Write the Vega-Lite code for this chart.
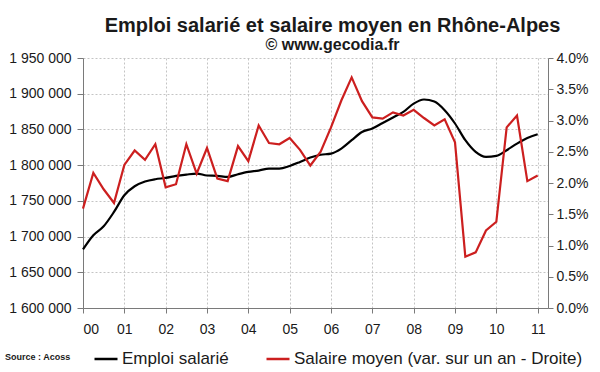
{
  "$schema": "https://vega.github.io/schema/vega-lite/v6.json",
  "width": 465,
  "height": 250,
  "autosize": {"type": "none"},
  "padding": {"left": 83, "top": 58, "right": 52, "bottom": 64},
  "background": "white",
  "title": {
    "text": "Emploi salarié et salaire moyen en Rhône-Alpes",
    "subtitle": "© www.gecodia.fr",
    "anchor": "middle",
    "frame": "group",
    "dx": 17,
    "dy": 4,
    "offset": 2,
    "font": "Arial",
    "fontSize": 20,
    "fontWeight": "bold",
    "color": "#1a1a1a",
    "subtitleFont": "Arial",
    "subtitleFontSize": 16,
    "subtitleFontWeight": "bold",
    "subtitleColor": "#1a1a1a",
    "subtitlePadding": 1
  },
  "data": {
    "values": [
      {"t": 2000.00, "emploi": 1682000, "salaire": 0.0159},
      {"t": 2000.25, "emploi": 1701800, "salaire": 0.0216},
      {"t": 2000.50, "emploi": 1714400, "salaire": 0.0190},
      {"t": 2000.75, "emploi": 1734500, "salaire": 0.0168},
      {"t": 2001.00, "emploi": 1757800, "salaire": 0.0229},
      {"t": 2001.25, "emploi": 1770400, "salaire": 0.0252},
      {"t": 2001.50, "emploi": 1777000, "salaire": 0.0237},
      {"t": 2001.75, "emploi": 1780300, "salaire": 0.0262},
      {"t": 2002.00, "emploi": 1782100, "salaire": 0.0193},
      {"t": 2002.25, "emploi": 1784900, "salaire": 0.0198},
      {"t": 2002.50, "emploi": 1786800, "salaire": 0.0262},
      {"t": 2002.75, "emploi": 1788200, "salaire": 0.0215},
      {"t": 2003.00, "emploi": 1785500, "salaire": 0.0256},
      {"t": 2003.25, "emploi": 1785000, "salaire": 0.0207},
      {"t": 2003.50, "emploi": 1783500, "salaire": 0.0203},
      {"t": 2003.75, "emploi": 1787300, "salaire": 0.0259},
      {"t": 2004.00, "emploi": 1790500, "salaire": 0.0235},
      {"t": 2004.25, "emploi": 1792400, "salaire": 0.0292},
      {"t": 2004.50, "emploi": 1795200, "salaire": 0.0264},
      {"t": 2004.75, "emploi": 1795200, "salaire": 0.0262},
      {"t": 2005.00, "emploi": 1798900, "salaire": 0.0272},
      {"t": 2005.25, "emploi": 1804500, "salaire": 0.0253},
      {"t": 2005.50, "emploi": 1810600, "salaire": 0.0228},
      {"t": 2005.75, "emploi": 1814500, "salaire": 0.0250},
      {"t": 2006.00, "emploi": 1816200, "salaire": 0.0289},
      {"t": 2006.25, "emploi": 1823200, "salaire": 0.0332},
      {"t": 2006.50, "emploi": 1834900, "salaire": 0.0369},
      {"t": 2006.75, "emploi": 1846500, "salaire": 0.0331},
      {"t": 2007.00, "emploi": 1851300, "salaire": 0.0305},
      {"t": 2007.25, "emploi": 1859100, "salaire": 0.0303},
      {"t": 2007.50, "emploi": 1866700, "salaire": 0.0313},
      {"t": 2007.75, "emploi": 1874500, "salaire": 0.0308},
      {"t": 2008.00, "emploi": 1886200, "salaire": 0.0317},
      {"t": 2008.25, "emploi": 1891900, "salaire": 0.0304},
      {"t": 2008.50, "emploi": 1889000, "salaire": 0.0292},
      {"t": 2008.75, "emploi": 1876900, "salaire": 0.0302},
      {"t": 2009.00, "emploi": 1858300, "salaire": 0.0265},
      {"t": 2009.25, "emploi": 1834900, "salaire": 0.0082},
      {"t": 2009.50, "emploi": 1818500, "salaire": 0.0089},
      {"t": 2009.75, "emploi": 1811500, "salaire": 0.0124},
      {"t": 2010.00, "emploi": 1812900, "salaire": 0.0138},
      {"t": 2010.25, "emploi": 1820900, "salaire": 0.0289},
      {"t": 2010.50, "emploi": 1830200, "salaire": 0.0308},
      {"t": 2010.75, "emploi": 1838100, "salaire": 0.0203},
      {"t": 2011.00, "emploi": 1843300, "salaire": 0.0212}
    ]
  },
  "encoding": {
    "x": {
      "field": "t",
      "type": "quantitative",
      "scale": {"domain": [2000, 2011.25], "nice": false, "zero": false},
      "axis": {
        "title": null,
        "values": [2000, 2001, 2002, 2003, 2004, 2005, 2006, 2007, 2008, 2009, 2010, 2011],
        "labelExpr": "slice(toString(datum.value), 2)",
        "grid": true,
        "gridDash": [2, 2],
        "gridColor": "#c4c4c4",
        "domainColor": "#7a7a7a",
        "tickColor": "#7a7a7a",
        "tickSize": 5,
        "labelPadding": 9,
        "labelFontSize": 14,
        "labelColor": "#1a1a1a",
        "labelFont": "Arial"
      }
    },
    "color": {
      "scale": {
        "domain": ["Emploi salarié", "Salaire moyen (var. sur un an - Droite)"],
        "range": ["#000000", "#cc1f1f"]
      },
      "legend": {
        "title": "Source : Acoss",
        "titleOrient": "left",
        "orient": "none",
        "legendX": -78,
        "legendY": 288,
        "direction": "horizontal",
        "symbolType": "stroke",
        "symbolSize": 529,
        "symbolStrokeWidth": 2.5,
        "labelFontSize": 17,
        "labelFont": "Arial",
        "labelColor": "#1a1a1a",
        "labelLimit": 400,
        "labelOffset": 3,
        "columnPadding": 32,
        "titleFontSize": 9,
        "titleFont": "Arial",
        "titleFontWeight": "bold",
        "titleColor": "#1a1a1a",
        "titlePadding": 22
      }
    }
  },
  "layer": [
    {
      "mark": {"type": "line", "strokeWidth": 2.2, "interpolate": "monotone"},
      "encoding": {
        "y": {
          "field": "emploi",
          "type": "quantitative",
          "scale": {"domain": [1600000, 1950000], "nice": false, "zero": false},
          "axis": {
            "title": null,
            "orient": "left",
            "values": [1600000, 1650000, 1700000, 1750000, 1800000, 1850000, 1900000, 1950000],
            "format": ",d",
            "grid": true,
            "gridDash": [2, 2],
            "gridColor": "#c4c4c4",
            "domainColor": "#7a7a7a",
            "tickColor": "#7a7a7a",
            "tickSize": 6,
            "labelPadding": 6,
            "labelFontSize": 14,
            "labelColor": "#1a1a1a",
            "labelFont": "Arial"
          }
        },
        "color": {"datum": "Emploi salarié"}
      }
    },
    {
      "mark": {"type": "line", "strokeWidth": 2.2},
      "encoding": {
        "y": {
          "field": "salaire",
          "type": "quantitative",
          "scale": {"domain": [0, 0.04], "nice": false},
          "axis": {
            "title": null,
            "orient": "right",
            "values": [0, 0.005, 0.01, 0.015, 0.02, 0.025, 0.03, 0.035, 0.04],
            "format": ".1%",
            "grid": false,
            "domainColor": "#7a7a7a",
            "tickColor": "#7a7a7a",
            "tickSize": 5,
            "labelPadding": 3,
            "labelFontSize": 14,
            "labelColor": "#1a1a1a",
            "labelFont": "Arial"
          }
        },
        "color": {"datum": "Salaire moyen (var. sur un an - Droite)"}
      }
    }
  ],
  "resolve": {"scale": {"y": "independent"}},
  "config": {
    "locale": {
      "number": {"decimal": ".", "thousands": " ", "grouping": [3], "currency": ["", ""]}
    },
    "view": {"stroke": null}
  }
}
